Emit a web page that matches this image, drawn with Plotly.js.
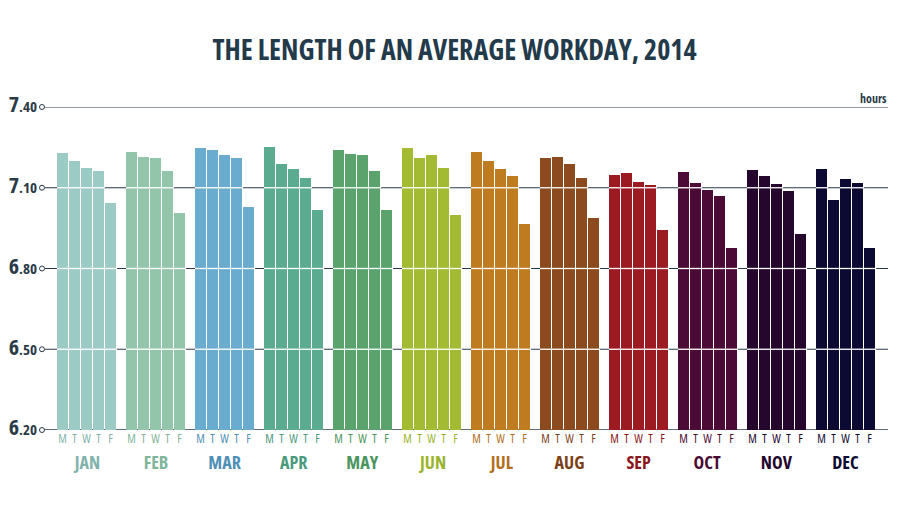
<!DOCTYPE html>
<html>
<head>
<meta charset="utf-8">
<script src="https://cdn.plot.ly/plotly-3.0.1.min.js"></script>
<style>
html,body{margin:0;padding:0;background:#fff}
#chart{width:909px;height:511px}
#chart text{font-stretch:condensed !important}
</style>
</head>
<body>
<div id="chart"></div>
<script>
// ---- data (hours per weekday) ----
const months = ['JAN','FEB','MAR','APR','MAY','JUN','JUL','AUG','SEP','OCT','NOV','DEC'];
const days = ['M','T','W','T','F'];
const jan = [7.228, 7.198, 7.172, 7.161, 7.045];
const feb = [7.231, 7.216, 7.209, 7.161, 7.008];
const mar = [7.246, 7.242, 7.220, 7.209, 7.030];
const apr = [7.250, 7.187, 7.168, 7.138, 7.016];
const may = [7.239, 7.224, 7.220, 7.164, 7.019];
const jun = [7.246, 7.209, 7.220, 7.172, 6.997];
const jul = [7.231, 7.198, 7.168, 7.142, 6.967];
const aug = [7.209, 7.216, 7.190, 7.138, 6.986];
const sep = [7.148, 7.156, 7.122, 7.111, 6.944];
const oct = [7.159, 7.119, 7.093, 7.070, 6.877];
const nov = [7.167, 7.145, 7.115, 7.089, 6.929];
const dec = [7.171, 7.056, 7.133, 7.119, 6.877];
const values = [jan, feb, mar, apr, may, jun, jul, aug, sep, oct, nov, dec];
const yTicks = [6.20, 6.50, 6.80, 7.10, 7.40];
const yTickLabels = ['6.20', '6.50', '6.80', '7.10', '7.40'];

// ---- styles ----
const barColors = ['#9ccbc5','#92c5a9','#6aacd0','#5aab8f','#5aa36d','#a3bb33','#bf7b20','#8c4a1f','#9c1b23','#4c0b37','#25062d','#0c0a32'];
const labelColors = ['#7fb3ac','#7fb59a','#4e90b6','#4a9a7e','#4a9460','#9ab42c','#b26e1a','#7d3f17','#8c1620','#470a33','#25062d','#0c0a32'];
const dark = '#2a3a47';
const FONT = '"Open Sans", "Roboto", sans-serif';

// layout geometry (in slot units)
const PITCH = 5.75;       // distance between month groups
const BARW = 0.917;
const x0 = -1.708, x1 = 68.79;

const traces = [];
const shapes = [];
const annotations = [];
const tickvals = [], ticktext = [];

values.forEach((vals, m) => {
  const xs = days.map((d, i) => m * PITCH + i);
  traces.push({
    type: 'bar', x: xs, y: vals, width: BARW,
    marker: {color: barColors[m], line: {width: 0}},
    hoverinfo: 'y', showlegend: false
  });
  xs.forEach((x, i) => {
    tickvals.push(x);
    ticktext.push('<span style="color:' + labelColors[m] + '">' + days[i] + '</span>');
    // white line across bars at grid levels
    yTicks.forEach(t => {
      if (t > yTicks[0] && vals[i] > t) {
        shapes.push({type: 'line', xref: 'x', yref: 'y', x0: x - BARW / 2, x1: x + BARW / 2 + 0.09, y0: t, y1: t,
          line: {color: '#ffffff', width: 1.3}, layer: 'above'});
      }
    });
  });
  annotations.push({
    xref: 'x', yref: 'paper', x: m * PITCH + 2, y: -0.099, yanchor: 'middle', xanchor: 'center',
    text: '<b>' + months[m] + '</b>', showarrow: false,
    font: {family: FONT, size: 18, color: labelColors[m]}
  });
});

// gridlines
yTicks.forEach((t, k) => {
  shapes.push({type: 'line', xref: 'x', yref: 'y', x0: x0 + 0.25, x1: x1, y0: t, y1: t,
    line: {color: dark, width: k === 0 ? 1.6 : 1.1}, layer: 'below'});
});

// small circles at the left end of each gridline
traces.push({
  type: 'scatter', mode: 'markers', x: yTicks.map(() => x0), y: yTicks,
  marker: {symbol: 'circle-open', size: 5, color: dark, line: {width: 1, color: dark}},
  cliponaxis: false, hoverinfo: 'skip', showlegend: false
});

annotations.push({
  xref: 'paper', yref: 'y', x: 1, y: yTicks[yTicks.length - 1], xanchor: 'right', yanchor: 'bottom',
  xshift: 5, yshift: -2, text: '<b>hours</b>', showarrow: false,
  font: {family: FONT, size: 12, color: dark}
});

const layout = {
  width: 909, height: 511,
  margin: {l: 42, r: 21, t: 107, b: 81},
  paper_bgcolor: '#ffffff', plot_bgcolor: '#ffffff',
  bargap: 0,
  title: {
    text: '<b>THE LENGTH OF AN AVERAGE WORKDAY, 2014</b>',
    x: 0.5, xanchor: 'center', y: 0.902, yanchor: 'middle',
    font: {family: FONT, size: 28, color: '#233a4b'}
  },
  xaxis: {
    range: [x0, x1], showgrid: false, zeroline: false, showline: false,
    tickvals: tickvals, ticktext: ticktext, ticks: '', tickangle: 0,
    tickfont: {family: FONT, size: 12, color: dark}, fixedrange: true
  },
  yaxis: {
    range: [yTicks[0], yTicks[yTicks.length - 1]], showgrid: false, zeroline: false, showline: false,
    tickvals: yTicks,
    ticktext: yTickLabels.map(s => '<b><span style="font-size:22px">' + s.slice(0, 1) + '</span><span style="font-size:15px">' + s.slice(1) + '</span></b>'),
    ticks: '', ticklabelstandoff: 4,
    tickfont: {family: FONT, size: 15, color: dark}, fixedrange: true
  },
  shapes: shapes,
  annotations: annotations
};

Plotly.newPlot('chart', traces, layout, {displayModeBar: false, staticPlot: true});
</script>
</body>
</html>
